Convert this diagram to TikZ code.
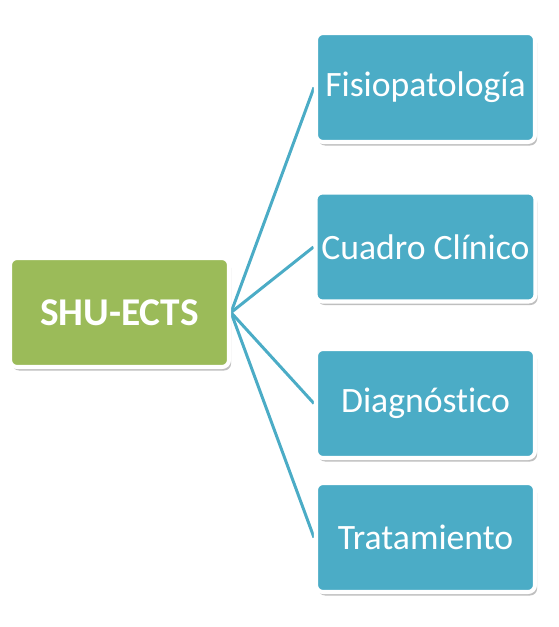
\documentclass[tikz,border=0pt]{standalone}
\usepackage{fontspec}
\setmainfont{Carlito}[Ligatures={NoCommon}]
\usetikzlibrary{shadows, backgrounds}

\definecolor{verde}{HTML}{9BBB59}
\definecolor{azul}{HTML}{4BACC6}

\begin{document}
\begin{tikzpicture}[
  caja/.style={draw=white, line width=2.3pt, rounded corners=4pt,
               minimum width=4.38cm, minimum height=2.18cm, align=center,
               text=white, font=\fontsize{20.3}{22}\selectfont,
               drop shadow={shadow xshift=1.2pt, shadow yshift=-2pt,
                            fill=black, opacity=0.25}},
  enlace/.style={draw=azul, line width=1.7pt}]

  \useasboundingbox (0,0) rectangle (11.16,-12.54);

  % Nodo central
  \node[caja, fill=verde, font=\fontsize{22.4}{24}\selectfont\bfseries] (shu) at (2.39,-6.25) {SHU-ECTS};

  % Temas a la derecha
  \node[caja, fill=azul] (fisio) at (8.51,-1.75)  {Fisiopatología};
  \node[caja, fill=azul] (cuadro) at (8.51,-4.94) {Cuadro Clínico};
  \node[caja, fill=azul] (diag) at (8.51,-8.07)   {Diagnóstico};
  \node[caja, fill=azul] (trat) at (8.51,-10.75)  {Tratamiento};

  % Conexiones (detras de las cajas)
  \begin{scope}[on background layer]
    \draw[enlace] (shu.east) -- (fisio.west);
    \draw[enlace] (shu.east) -- (cuadro.west);
    \draw[enlace] (shu.east) -- (diag.west);
    \draw[enlace] (shu.east) -- (trat.west);
  \end{scope}
\end{tikzpicture}
\end{document}
